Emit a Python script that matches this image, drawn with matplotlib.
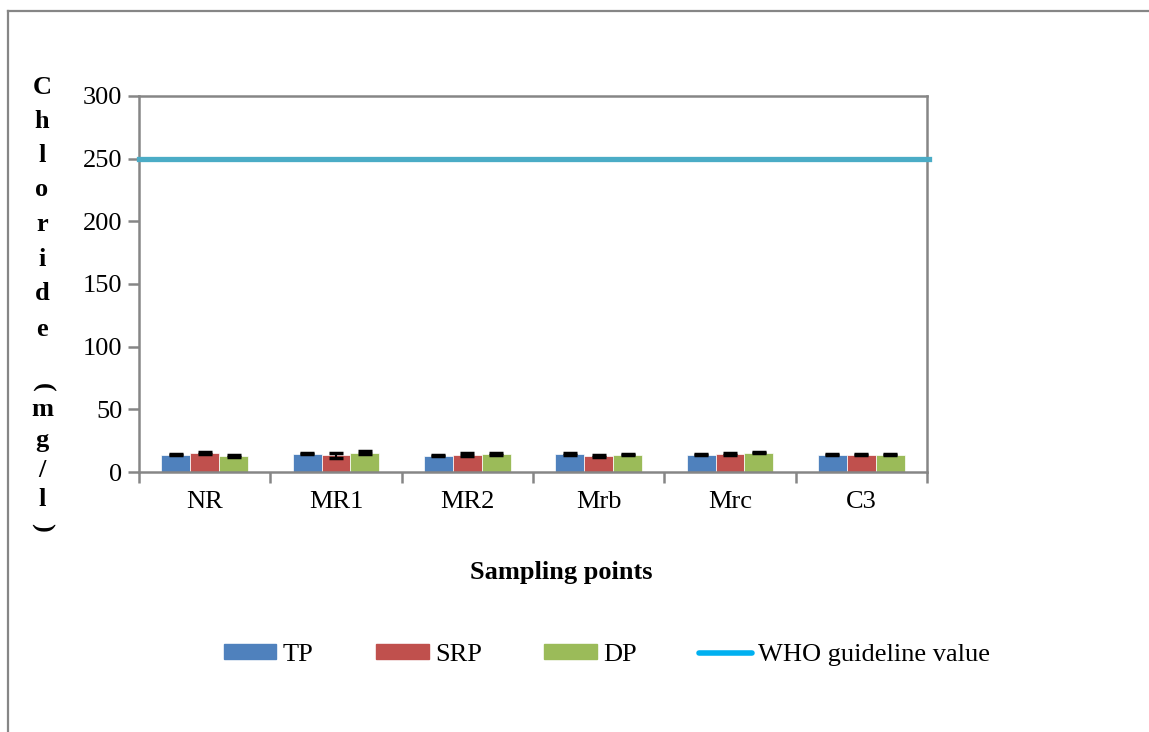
import matplotlib
matplotlib.use("Agg")
import matplotlib.pyplot as plt
from matplotlib.lines import Line2D
from matplotlib.patches import Patch
import numpy as np

plt.rcParams['font.family'] = ['Liberation Serif', 'DejaVu Serif']

# data
sites = ['NR', 'MR1', 'MR2', 'Mrb', 'Mrc', 'C3']
tp = [13.8, 14.6, 13.0, 14.4, 13.8, 13.8]
srp = [14.8, 13.3, 13.8, 12.5, 14.6, 13.8]
dp = [12.8, 15.4, 14.6, 13.8, 15.4, 13.8]
tp_err = [0.3, 0.6, 0.6, 0.8, 0.3, 0.3]
srp_err = [0.8, 1.8, 1.2, 0.8, 0.8, 0.3]
dp_err = [0.6, 1.2, 0.8, 0.3, 0.3, 0.3]
who_value = 250
yticks = [0, 50, 100, 150, 200, 250, 300]

W, H = 1149, 732
fig = plt.figure(figsize=(W / 100, H / 100), dpi=100)
ax = fig.add_axes([139 / W, 1 - 472 / H, (927 - 139) / W, (472 - 96) / H])

grey = '#868686'
x = np.arange(len(sites))
bw = 0.22
series = [(tp, tp_err, '#4F81BD', 'TP'),
          (srp, srp_err, '#C0504D', 'SRP'),
          (dp, dp_err, '#9BBB59', 'DP')]
for k, (vals, errs, col, lab) in enumerate(series):
    ax.bar(x + (k - 1) * bw, vals, bw, color=col, edgecolor='white',
           linewidth=0.5, zorder=2)
    ax.errorbar(x + (k - 1) * bw, vals, yerr=errs, fmt='none',
                ecolor='black', elinewidth=1.5, capsize=5, capthick=2.5,
                zorder=3)

ax.axhline(who_value, xmin=0, xmax=1.003, color='#4BACC6', linewidth=3.8,
           zorder=4, clip_on=False)

ax.set_xlim(-0.5, len(sites) - 0.5)
ax.set_ylim(0, 300)
ax.set_yticks(yticks)
ax.set_xticks(x)
ax.set_xticklabels(sites, fontsize=19)
ax.set_xticks(np.arange(len(sites) + 1) - 0.5, minor=True)
ax.tick_params(axis='x', which='major', length=0, pad=14)
ax.tick_params(axis='x', which='minor', length=8, width=1.8, color=grey)
ax.tick_params(axis='y', length=8, width=1.8, color=grey, labelsize=19, pad=4)
for sp in ax.spines.values():
    sp.set_color(grey)
    sp.set_linewidth(1.8)

# stacked y label
letters = ['C', 'h', 'l', 'o', 'r', 'i', 'd', 'e', '(', 'm', 'g', '/', 'l', ')']
ypix = [88, 122, 156, 190, 225, 259, 294, 330, 387, 409, 441, 470, 500, 527]
for ch, yp in zip(letters, ypix):
    rot = -90 if ch in '()' else 0
    fig.text(42 / W, 1 - yp / H, ch, ha='center', va='center', fontsize=19,
             fontweight='bold', rotation=rot)

fig.text(561 / W, 1 - 573 / H, 'Sampling points', ha='center', va='center',
         fontsize=19, fontweight='bold')

handles = [Patch(color='#4F81BD'), Patch(color='#C0504D'),
           Patch(color='#9BBB59'),
           Line2D([0], [0], color='#00B0F0', linewidth=4,
                  solid_capstyle='round')]
fig.legend(handles, ['TP', 'SRP', 'DP', 'WHO guideline value'],
           loc='center', bbox_to_anchor=(607 / W, 1 - 655 / H), ncol=4,
           frameon=False, fontsize=19, handlelength=2.0, handleheight=0.5,
           handletextpad=0.25, columnspacing=2.35)

# outer chart border (left and top edges only)
fig.add_artist(Line2D([8 / W, 8 / W], [0, 1 - 11 / H], color=grey,
                      linewidth=1.6, transform=fig.transFigure))
fig.add_artist(Line2D([8 / W, 1], [1 - 11 / H, 1 - 11 / H], color=grey,
                      linewidth=1.6, transform=fig.transFigure))

fig.savefig('out.png', dpi=100)
